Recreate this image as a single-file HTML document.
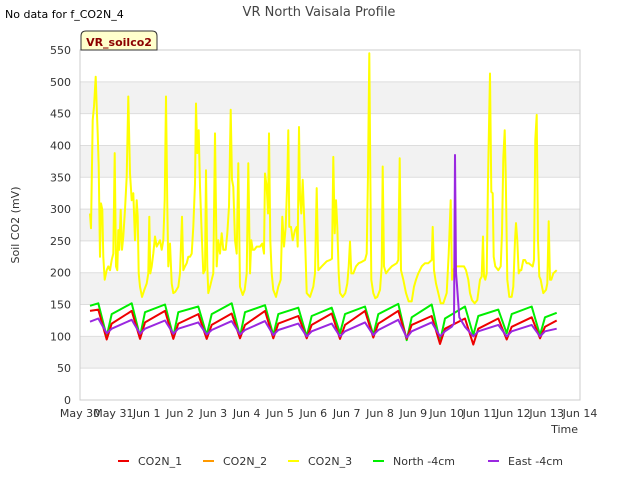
<!DOCTYPE html>
<html><head><meta charset="utf-8"><style>
body{margin:0;background:#fff;font-family:"Liberation Sans",sans-serif}
svg text{font-family:"DejaVu Sans","Liberation Sans",sans-serif}
</style></head><body>
<svg id="c" width="640" height="480" xmlns="http://www.w3.org/2000/svg">
<text x="5" y="18" font-size="11" fill="#000">No data for f_CO2N_4</text>
<text x="319" y="16" font-size="13" fill="#444" text-anchor="middle">VR North Vaisala Profile</text>
<g id="bands"></g>
<g id="grid"></g>
<rect x="80" y="50" width="500" height="350" fill="none" stroke="#ccc"/>
<g id="yticks"></g>
<g id="xticks"></g>
<g id="series"></g>
<text x="19" y="225" font-size="11" fill="#333" text-anchor="middle" transform="rotate(-90 19 225)">Soil CO2 (mV)</text>
<text x="578" y="433" font-size="11" fill="#333" text-anchor="end">Time</text>
<g>
<path d="M81,50 L81,36 Q81,31 86,31 L152,31 Q157,31 157,36 L157,50 Z" fill="#ffffcc" stroke="#333"/>
<text x="119" y="46" font-size="11" font-weight="bold" fill="#8b0000" text-anchor="middle">VR_soilco2</text>
</g>
<g id="legend"></g>
</svg>
<script>
const yTicks=[0,50,100,150,200,250,300,350,400,450,500,550];
const xLabels=["May 30","May 31","Jun 1","Jun 2","Jun 3","Jun 4","Jun 5","Jun 6","Jun 7","Jun 8","Jun 9","Jun 10","Jun 11","Jun 12","Jun 13","Jun 14"];
const tDays=[0.3,0.55,0.8,0.95,1.55,1.8,1.95,2.55,2.8,2.95,3.55,3.8,3.95,4.55,4.8,4.95,5.55,5.8,5.95,6.55,6.8,6.95,7.55,7.8,7.95,8.55,8.8,8.95,9.55,9.8,9.95,10.55,10.8,10.95,11.55,11.8,11.95,12.55,12.8,12.95,13.55,13.8,13.95,14.3];
const greenV=[148,152,100,135,152,100,138,150,100,138,147,102,135,152,100,138,149,102,135,145,100,132,145,105,135,147,102,135,151,94,130,150,92,128,147,102,132,142,105,135,147,102,130,137];
const redV=[140,142,95,120,140,96,122,140,96,120,135,96,118,136,97,118,140,97,120,132,97,118,136,96,118,140,98,120,140,96,118,132,88,112,128,87,112,128,95,115,130,97,115,125];
const purpleT=[0.3,0.55,0.8,0.95,1.55,1.8,1.95,2.55,2.8,2.95,3.55,3.8,3.95,4.55,4.8,4.95,5.55,5.8,5.95,6.55,6.8,6.95,7.55,7.8,7.95,8.55,8.8,8.95,9.55,9.8,9.95,10.55,10.8,10.95,11.15,11.22,11.25,11.28,11.31,11.38,11.55,11.8,11.95,12.55,12.8,12.95,13.55,13.8,13.95,14.3];
const purpleV=[123,128,105,112,126,104,112,125,104,112,122,103,110,124,103,110,124,102,110,120,100,108,120,100,108,122,102,110,126,98,108,122,100,108,115,120,385,200,180,130,115,100,108,118,100,108,118,100,108,112];
const yelT=[0.30,0.33,0.38,0.42,0.47,0.50,0.53,0.56,0.60,0.63,0.67,0.70,0.74,0.80,0.85,0.90,0.95,1.00,1.04,1.08,1.12,1.15,1.18,1.22,1.26,1.30,1.35,1.40,1.45,1.50,1.55,1.60,1.65,1.70,1.73,1.76,1.80,1.86,1.93,2.00,2.05,2.08,2.11,2.15,2.20,2.25,2.30,2.35,2.40,2.45,2.50,2.54,2.58,2.62,2.65,2.70,2.75,2.80,2.86,2.95,3.00,3.06,3.10,3.15,3.20,3.25,3.30,3.35,3.40,3.45,3.48,3.52,3.56,3.60,3.65,3.70,3.75,3.78,3.82,3.85,3.90,3.95,4.00,4.05,4.10,4.15,4.20,4.25,4.30,4.37,4.42,4.47,4.52,4.56,4.60,4.65,4.70,4.75,4.80,4.88,4.94,5.00,5.05,5.10,5.14,5.18,5.23,5.30,5.40,5.47,5.52,5.55,5.60,5.64,5.67,5.71,5.75,5.80,5.88,5.95,6.02,6.07,6.12,6.17,6.22,6.25,6.28,6.33,6.38,6.45,6.50,6.53,6.57,6.60,6.64,6.68,6.72,6.76,6.80,6.90,7.00,7.05,7.10,7.15,7.25,7.40,7.50,7.56,7.60,7.64,7.68,7.72,7.76,7.80,7.88,7.96,8.02,8.06,8.10,8.14,8.20,8.28,8.36,8.45,8.55,8.60,8.64,8.68,8.71,8.74,8.80,8.86,8.92,9.00,9.05,9.08,9.12,9.18,9.25,9.35,9.50,9.55,9.59,9.63,9.70,9.78,9.86,9.95,10.02,10.08,10.15,10.25,10.35,10.45,10.55,10.58,10.62,10.68,10.75,10.82,10.90,11.00,11.06,11.12,11.16,11.20,11.26,11.35,11.45,11.52,11.58,11.65,11.70,11.76,11.84,11.92,12.00,12.05,12.09,12.12,12.16,12.20,12.24,12.30,12.34,12.38,12.41,12.46,12.55,12.62,12.66,12.70,12.74,12.77,12.82,12.88,12.95,13.00,13.05,13.08,13.12,13.16,13.20,13.24,13.30,13.35,13.40,13.46,13.53,13.58,13.62,13.66,13.70,13.74,13.78,13.82,13.86,13.90,13.98,14.02,14.06,14.10,14.14,14.20,14.30];
const yelV=[293,270,440,461,508,461,419,367,225,309,299,225,189,204,210,204,220,230,388,210,204,267,236,299,236,257,299,351,477,356,314,325,251,314,288,199,178,162,173,183,199,288,199,210,230,257,241,246,251,236,251,314,477,304,210,246,183,168,170,178,199,288,204,210,215,225,225,230,272,340,466,388,424,335,262,199,204,361,210,168,178,189,199,419,210,251,230,262,236,236,262,304,456,346,335,251,230,372,178,165,173,199,372,199,251,236,236,241,241,246,230,356,335,293,419,251,199,173,162,178,189,288,241,272,346,424,272,272,251,267,272,241,429,319,293,346,293,241,168,162,178,199,333,204,210,218,220,222,382,262,314,272,199,168,162,168,183,210,249,199,199,210,215,217,220,230,356,545,356,189,168,160,162,173,210,367,210,199,204,210,215,220,380,204,189,168,155,155,178,189,199,210,215,215,220,272,204,183,168,152,152,168,230,314,189,204,210,210,210,210,204,189,168,157,152,157,189,194,257,194,189,199,346,513,327,325,225,210,204,210,262,380,424,356,189,162,162,178,251,278,251,199,204,204,220,220,215,215,212,210,220,409,448,251,194,189,178,168,173,183,281,189,189,199,204];
const NS="http://www.w3.org/2000/svg";
const X0=80,X1=580,Y0=400,Y1=50;
function xs(d){return X0+(X1-X0)*d/15;}
function ys(v){return Y0-(Y0-Y1)*v/550;}
function mk(tag,attrs,parent){const e=document.createElementNS(NS,tag);for(const k in attrs)e.setAttribute(k,attrs[k]);parent.appendChild(e);return e;}
const bands=document.getElementById('bands'),grid=document.getElementById('grid'),yt=document.getElementById('yticks'),xt=document.getElementById('xticks'),ser=document.getElementById('series'),leg=document.getElementById('legend');
for(let i=0;i<yTicks.length-1;i++){
  const a=yTicks[i],b=yTicks[i+1];
  const r=mk('rect',{x:X0,y:ys(b),width:X1-X0,height:ys(a)-ys(b),fill:(i%2===1)?'#f2f2f2':'#ffffff'},bands);
  
  
}
yTicks.forEach(v=>{
  const l=mk('line',{x1:X0,x2:X1,y1:ys(v),y2:ys(v),stroke:'#dddddd'},grid);
  
  
  const t=mk('text',{x:X0-9,y:ys(v)+4,'font-size':11,fill:'#333','text-anchor':'end'},yt);
  t.textContent=v;
  
  
});
xLabels.forEach((s,i)=>{
  const t=mk('text',{x:xs(i),y:417,'font-size':11,fill:'#333','text-anchor':'middle'},xt);
  t.textContent=s;
  
  
});
function line(T,V,color,name,w){
  const p=mk('polyline',{points:T.map((t,i)=>xs(t).toFixed(1)+','+ys(V[i]).toFixed(1)).join(' '),fill:'none',stroke:color,'stroke-width':w,'stroke-linejoin':'round'},ser);
  
  
}
line(yelT,yelV,'#ffff00','series-co2n-3',2);
line(tDays,greenV,'#00ee00','series-north-4cm',2);
line(tDays,redV,'#ee0000','series-co2n-1',2);
line(purpleT,purpleV,'#9a28e0','series-east-4cm',2);
const legItems=[["CO2N_1","#ee0000",120],["CO2N_2","#ff9900",205],["CO2N_3","#ffff00",290],["North -4cm","#00ee00",375],["East -4cm","#9a28e0",490]];
legItems.forEach(([n,c,x])=>{
  const g=mk('g',{},leg);
  
  
  mk('line',{x1:x-2,x2:x+9,y1:461,y2:461,stroke:c,'stroke-width':2},g);
  const t=mk('text',{x:x+18,y:465,'font-size':11,fill:'#333'},g);
  t.textContent=n;
});
</script>
</body></html>
